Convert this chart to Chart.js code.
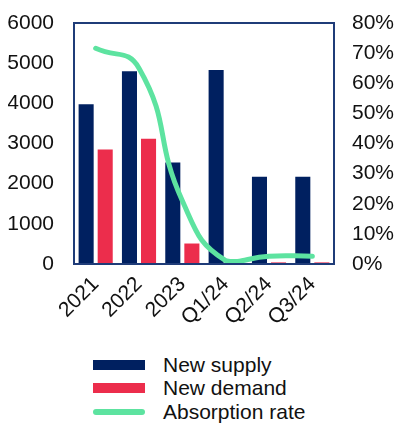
<!DOCTYPE html>
<html>
<head>
<meta charset="utf-8">
<script src="https://cdn.jsdelivr.net/npm/chart.js@4.4.0/dist/chart.umd.min.js"></script>
<style>
  body { margin: 0; background: #fff; font-family: "Liberation Sans", Arial, sans-serif; }
  #wrap { position: relative; width: 395px; height: 424px; }
  #box { position: absolute; left: 0; top: 0; width: 395px; height: 345px; }
  #legend { position: absolute; left: 93px; top: 353px; }
  .item { display: flex; align-items: center; height: 23.5px; font-size: 21px; color: #111; }
  .swatch { width: 52px; margin-right: 18px; }
</style>
</head>
<body>
<div id="wrap">
  <div id="box"><canvas id="chart"></canvas></div>
  <div id="legend"></div>
</div>
<script>
// Data
const categories = ['2021', '2022', '2023', 'Q1/24', 'Q2/24', 'Q3/24'];
const newSupply = [3980, 4800, 2530, 4830, 2170, 2170];
const newDemand = [2850, 3120, 510, 0, 40, 40];
const absorptionRate = [0.716, 0.65, 0.21, 0.011, 0.026, 0.026];

const navy = '#002060';
const red = '#EC2D4C';
const green = '#5DE3A0';

// frame round the plot area
const frame = {
    id: 'frame',
    afterDatasetsDraw(chart) {
        const a = chart.chartArea, ctx = chart.ctx;
        ctx.save();
        ctx.strokeStyle = '#1F3C78';
        ctx.lineWidth = 2;
        ctx.strokeRect(a.left, a.top, a.right - a.left, a.bottom - a.top);
        ctx.restore();
    }
};

const font = { family: '"Liberation Sans", Arial, sans-serif', size: 21 };

// fixed axis boxes so the plot area sits where it does in the picture
const noPad = s => { s.paddingTop = 0; s.paddingBottom = 0; };

const chart = new Chart(document.getElementById('chart'), {
    type: 'bar',
    data: {
        labels: categories,
        datasets: [{
            label: 'New supply',
            data: newSupply,
            backgroundColor: navy,
            order: 1,
            yAxisID: 'y',
        }, {
            label: 'New demand',
            data: newDemand,
            backgroundColor: red,
            order: 1,
            yAxisID: 'y',
        }, {
            type: 'line',
            label: 'Absorption rate',
            data: absorptionRate,
            borderColor: green,
            borderWidth: 5,
            borderCapStyle: 'round',
            pointRadius: 0,
            tension: 0.5,
            order: 0,
            yAxisID: 'y1',
        }]
    },
    options: {
        responsive: true,
        maintainAspectRatio: false,
        animation: false,
        categoryPercentage: 0.88,
        barPercentage: 0.79,
        layout: { padding: { left: 8, right: 0, top: 23, bottom: 0 } },
        plugins: {
            legend: { display: false },
            tooltip: { enabled: false },
        },
        scales: {
            x: {
                grid: { display: false, drawTicks: false },
                border: { display: false },
                ticks: { color: '#111', font: font, minRotation: 45, maxRotation: 45, autoSkip: false, padding: 8 },
                // the rotated labels may hang into the side axes
                afterFit: s => { s.paddingLeft = 0; s.paddingRight = 0; s.height = 81; },
            },
            y: {
                min: 0,
                max: 6000,
                grid: { display: false, drawTicks: false },
                border: { display: false },
                ticks: { stepSize: 1000, color: '#111', font: font, padding: 20, callback: v => String(v) },
                afterFit: s => { s.width = 66; noPad(s); },
            },
            y1: {
                position: 'right',
                min: 0,
                max: 0.8,
                grid: { display: false, drawTicks: false },
                border: { display: false },
                ticks: {
                    stepSize: 0.1,
                    color: '#111',
                    font: font,
                    padding: 18,
                    callback: v => Math.round(v * 100) + '%',
                },
                afterFit: s => { s.width = 61; noPad(s); },
            },
        },
    },
    plugins: [frame],
});

// legend in one column, as in the picture
const legend = document.getElementById('legend');
chart.data.datasets.forEach(ds => {
    const row = document.createElement('div');
    row.className = 'item';
    const sw = document.createElement('span');
    sw.className = 'swatch';
    if (ds.type === 'line') {
        sw.style.height = '6px';
        sw.style.borderRadius = '3px';
        sw.style.background = ds.borderColor;
    } else {
        sw.style.height = '10px';
        sw.style.background = ds.backgroundColor;
    }
    row.appendChild(sw);
    row.appendChild(document.createTextNode(ds.label));
    legend.appendChild(row);
});
</script>
</body>
</html>
